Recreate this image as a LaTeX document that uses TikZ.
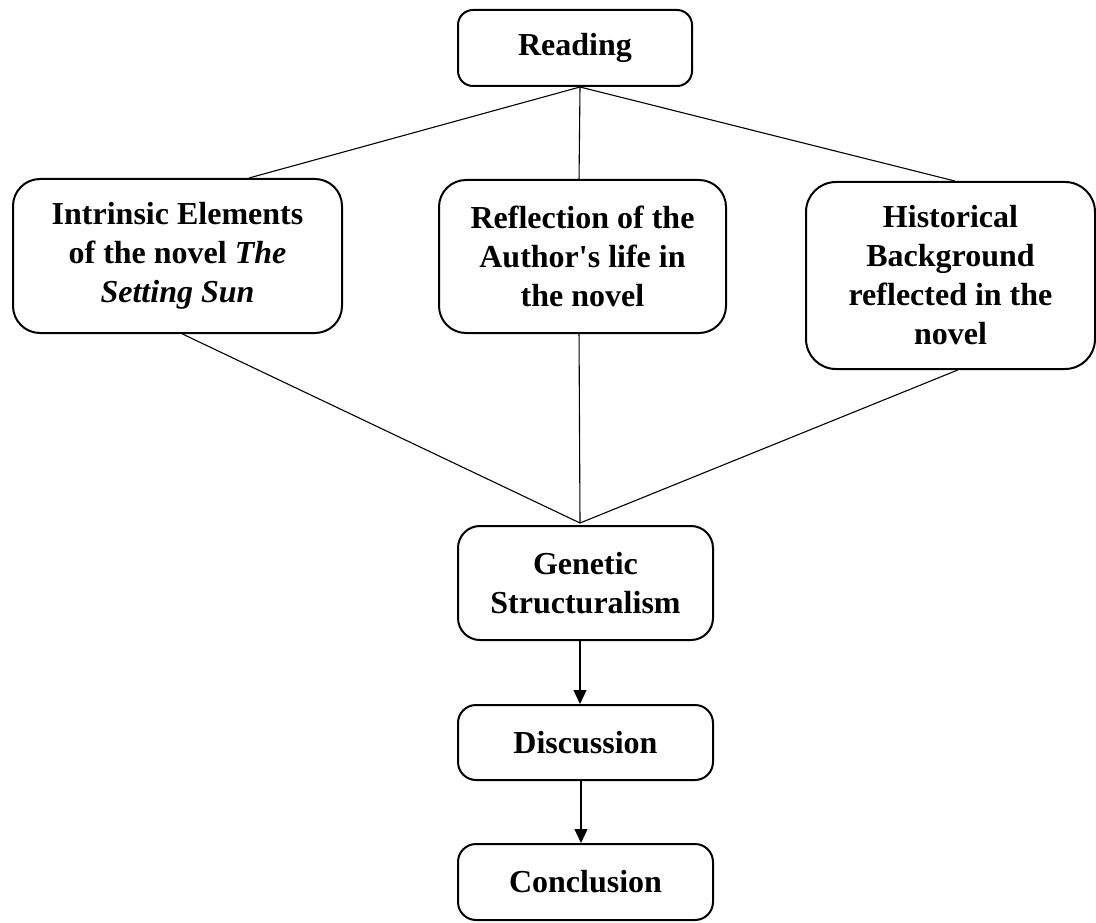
\documentclass[tikz,border=0pt]{standalone}
\usepackage{fontspec}
\setmainfont{Liberation Serif}[Ligatures=TeXOff]
\usetikzlibrary{arrows.meta,calc}
\begin{document}
\begin{tikzpicture}[x=1pt,y=-1pt,
  box/.style={draw,line width=2pt,align=center,inner sep=0pt,
    font=\fontsize{32}{39}\selectfont\bfseries},
  link/.style={line width=1.1pt},
  flow/.style={line width=1.1pt,-{Triangle[width=13pt,length=14pt]}}]
\useasboundingbox (0,0) rectangle (1096,923);
\node[box,rounded corners=15pt,minimum width=234pt,minimum height=76pt] (read) at (575,48) {Reading};
\node[box,rounded corners=27pt,minimum width=329pt,minimum height=154pt] (intr) at (177.5,256) {Intrinsic Elements\\of the novel \textit{The}\\\textit{Setting Sun}};
\node[box,rounded corners=27pt,minimum width=287pt,minimum height=153pt] (refl) at (582.5,256.5) {Reflection of the\\Author's life in\\the novel};
\node[box,rounded corners=30pt,minimum width=289pt,minimum height=187pt] (hist) at (950.5,275.5) {Historical\\Background\\reflected in the\\novel};
\node[box,rounded corners=22pt,minimum width=255pt,minimum height=114pt] (gene) at (585.5,583) {Genetic\\Structuralism};
\node[box,rounded corners=18pt,minimum width=255pt,minimum height=75pt] (disc) at (585.5,742.5) {Discussion};
\node[box,rounded corners=18pt,minimum width=255pt,minimum height=76pt] (conc) at (585.5,882) {Conclusion};
\coordinate (top) at ($(read.south)+(5,0)$);
\coordinate (conv) at ($(gene.north)+(-5.5,-2)$);
\draw[link] (top) -- ($(intr.north west)!0.716!(intr.north east)$);
\draw[link] (top) -- ($(refl.north west)!0.488!(refl.north east)$);
\draw[link] (top) -- ($(hist.north west)!0.515!(hist.north east)$);
\draw[link] ($(intr.south west)!0.515!(intr.south east)$) -- (conv);
\draw[link] ($(refl.south west)!0.488!(refl.south east)$) -- (conv);
\draw[link] ($(hist.south west)!0.525!(hist.south east)$) -- (conv);
\draw[flow] ($(gene.south)+(-5.5,0)$) -- ($(disc.north)+(-5.5,0)$);
\draw[flow] ($(disc.south)+(-4.5,0)$) -- ($(conc.north)+(-4.5,0)$);
\end{tikzpicture}
\end{document}
